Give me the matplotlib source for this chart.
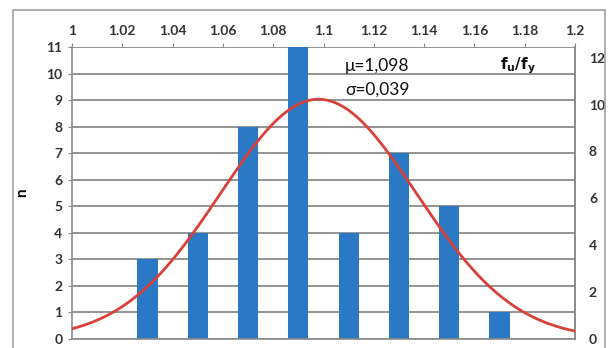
import numpy as np
import matplotlib.pyplot as plt

plt.rcParams['font.family'] = ['Lato', 'DejaVu Sans']

# histogram of f_u/f_y ratios
razon = [1.03, 1.05, 1.07, 1.09, 1.11, 1.13, 1.15, 1.17]
n = [3, 4, 8, 11, 4, 7, 5, 1]

mu = 1.098
sigma = 0.039

fig = plt.figure(figsize=(6.13, 3.48), dpi=100)
fig.patch.set_facecolor('white')
ax = fig.add_axes([0.1175, 0.026, 0.8205, 0.839])

ax.set_axisbelow(True)
ax.bar(razon, n, width=0.008, color='#2b78c5', zorder=2)

ax.set_xlim(1.0, 1.2)
ax.set_ylim(0, 11)
ax.set_xticks(np.arange(1.0, 1.2001, 0.02))
ax.set_xticklabels(['1', '1.02', '1.04', '1.06', '1.08', '1.1', '1.12', '1.14', '1.16', '1.18', '1.2'])
ax.xaxis.tick_top()
ax.set_yticks(range(0, 12))
ax.grid(axis='y', color='#8a8a8a', linewidth=1.3)
ax.tick_params(axis='x', colors='#8a8a8a', labelcolor='#333333', length=3, pad=4, labelsize=10)
ax.tick_params(axis='y', colors='#8a8a8a', labelcolor='#333333', length=3, pad=4, labelsize=10)
for lbl in ax.get_xticklabels() + ax.get_yticklabels():
    lbl.set_fontweight('bold')
for s in ax.spines.values():
    s.set_color('#8a8a8a')
    s.set_linewidth(1.2)
ax.spines['top'].set_visible(False)
ax.set_ylabel('n', fontweight='bold', fontsize=11, labelpad=12)

# normal density on the secondary axis
ax2 = ax.twinx()
x = np.linspace(1.0, 1.2, 300)
pdf = np.exp(-0.5 * ((x - mu) / sigma) ** 2) / (sigma * np.sqrt(2 * np.pi))
ax2.plot(x, pdf, color='#d8403a', linewidth=2, zorder=3)
ax2.set_ylim(0, 12.46)
ax2.set_yticks(range(0, 13, 2))
ax2.tick_params(axis='y', length=0, pad=10, labelsize=10, labelcolor='#333333')
for lbl in ax2.get_yticklabels():
    lbl.set_fontweight('bold')
for name, s in ax2.spines.items():
    s.set_visible(name == 'right')
ax2.spines['right'].set_color('#8a8a8a')
ax2.spines['right'].set_linewidth(1.2)

ax.text(1.1085, 10.3, 'μ=1,098', fontsize=12.5, color='#111111', va='center')
ax.text(1.1085, 9.4, 'σ=0,039', fontsize=12.5, color='#111111', va='center')
ax.text(1.170, 10.3, r'$\mathbf{f_u/f_y}$', fontsize=11, color='#111111', va='center')

# outer frame
fig.add_artist(plt.Rectangle((0.021, -0.01), 0.966, 0.98, transform=fig.transFigure,
                             fill=False, edgecolor='#a0a0a0', linewidth=1.2))

fig.savefig('out.png', dpi=100)
